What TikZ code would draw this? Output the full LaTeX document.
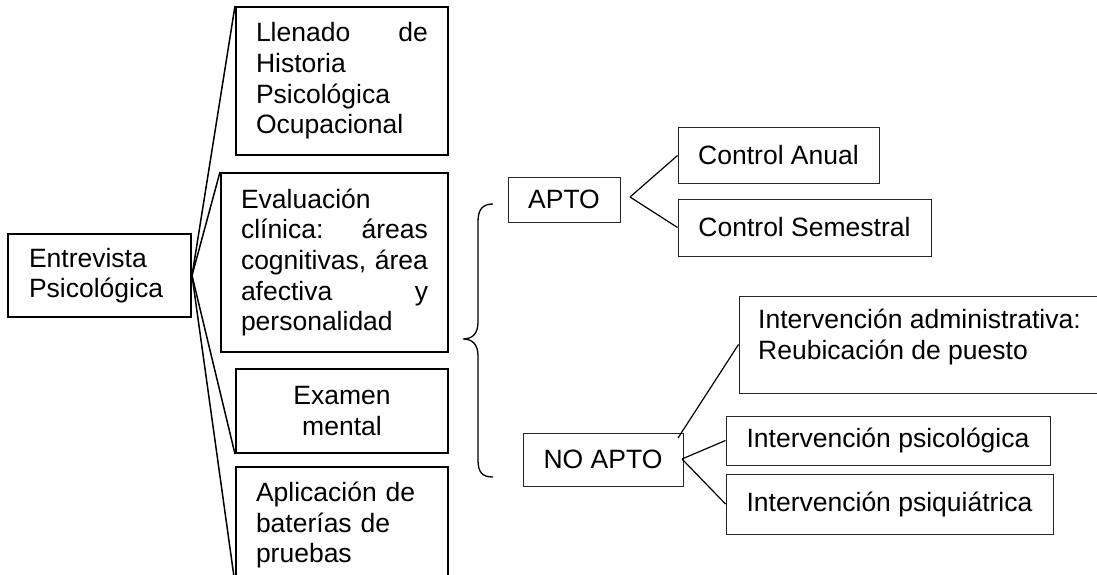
\documentclass[tikz,border=0pt]{standalone}
\usepackage{fontspec}
\setmainfont{Liberation Sans}
\begin{document}
\begin{tikzpicture}[x=1pt,y=-1pt,
  txt/.style={font=\fontsize{26.5}{30.7}\selectfont, inner sep=0pt},
  lbox/.style={txt, draw=black, line width=2pt, inner xsep=20pt, align=left},
  rbox/.style={txt, draw=black!85, line width=1pt, align=center},
  conn/.style={draw=black, line width=1.5pt},
  thin conn/.style={draw=black, line width=1.2pt}]
\useasboundingbox (0,0) rectangle (1097,575);
\clip (0,0) rectangle (1097,575);

% left column
\node[lbox, inner xsep=21pt, text width=141pt, minimum height=83pt] (ent) at (99.5,275.5) {Entrevista\\Psicológica};
\node[lbox, text width=172pt, minimum height=148pt] (llen) at (342,81) {Llenado\hfill de\\Historia\\Psicológica\\Ocupacional};
\node[lbox, text width=187pt, minimum height=179pt] (eva) at (334.5,262.5) {Evaluación\\clínica:\hfill áreas\\cognitivas,\hfill área\\afectiva\hfill y\\personalidad};
\node[lbox, text width=172pt, minimum height=84pt, align=center] (exa) at (342,411) {Examen\\mental};
\node[lbox, text width=172pt, minimum height=116pt] (apl) at (342,525) {Aplicación de\\baterías de\\pruebas};

\draw[conn] (ent.east) -- (llen.north west);
\draw[conn] (ent.east) -- (eva.north west);
\draw[conn] (ent.east) -- (exa.south west);
\draw[conn] (ent.east) -- (apl.south west);

% brace
\draw[line width=1.3pt] (493,204) .. controls (482,204) and (478,210) .. (478,222) -- (478,322)
  .. controls (478,334) and (472,339) .. (463,339)
  .. controls (472,339) and (478,344) .. (478,356) -- (478,460)
  .. controls (478,472) and (482,477) .. (493,477);

% right side
\node[rbox, minimum width=112pt, minimum height=45pt] (apto) at (564,199.5) {APTO};
\node[rbox, minimum width=201pt, minimum height=55pt] (ca) at (778.5,155.5) {Control Anual};
\node[rbox, minimum width=253pt, minimum height=57pt] (cs) at (804.5,227.5) {Control Semestral};
\coordinate (af) at (630,197);
\draw[thin conn] (af) -- (ca.west);
\draw[thin conn] (af) -- (cs.west);

\node[rbox, minimum width=160pt, minimum height=53pt] (noapto) at (603,459.5) {NO APTO};
\node[rbox, minimum width=371pt, minimum height=97pt] (adm) at (924.5,344.5) {};
\node[txt, anchor=north west, align=left] (admt) at (758,309) {Intervención administrativa:\\Reubicación de puesto};
\node[rbox, minimum width=324pt, minimum height=49pt] (psic) at (888,440.5) {Intervención psicológica};
\node[rbox, minimum width=327pt, minimum height=60pt] (psiq) at (889.5,504) {Intervención psiquiátrica};
\coordinate (nf) at (678,438);
\coordinate (ne) at (682,459);
\draw[thin conn] (nf) -- (adm.west);
\draw[thin conn] (ne) -- (psic.west);
\draw[thin conn] (ne) -- (psiq.west);
\end{tikzpicture}
\end{document}
